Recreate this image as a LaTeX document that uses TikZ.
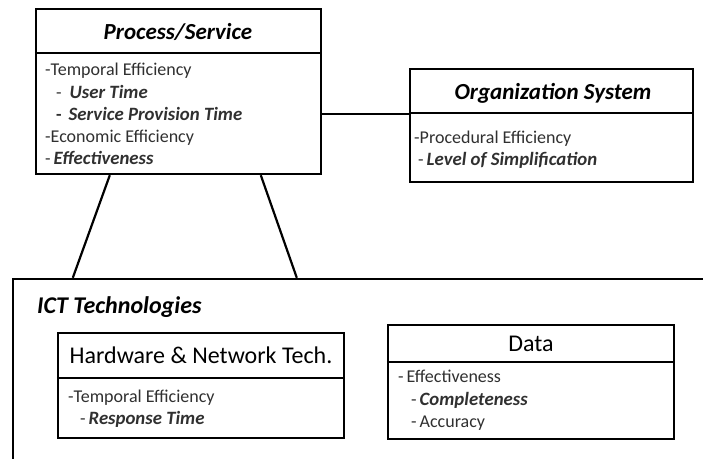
\documentclass[tikz,border=0pt]{standalone}
\usepackage{fontspec}
\setmainfont{Carlito}
\usetikzlibrary{calc}
\definecolor{txt}{HTML}{303030}
\newcommand{\bi}[1]{{\fontsize{18.8}{20}\selectfont\bfseries\itshape #1}}
\tikzset{
  box/.style={draw=black, line width=2.4pt, minimum width=#1, inner sep=0pt, fill=none},
  divider/.style={draw=black, line width=1.8pt},
  link/.style={draw=black, line width=2.2pt},
  hdr/.style={font=\fontsize{23}{25}\selectfont\bfseries\itshape, anchor=base, inner sep=0pt},
  hdrreg/.style={font=\fontsize{24}{26}\selectfont, anchor=base, inner sep=0pt},
  item/.style={font=\fontsize{18}{20}\selectfont, text=txt, anchor=base west, inner sep=0pt},
}
\begin{document}
\begin{tikzpicture}[x=1pt,y=-1pt]
\useasboundingbox (0,0) rectangle (703,458);
\clip (0,0) rectangle (703,458);
\fill[white] (0,0) rectangle (703,458);

% Process/Service
\node[box=285pt, minimum height=165pt] (ps) at (178.5,91.5) {};
\draw[divider] (ps.west |- 0,53) -- (ps.east |- 0,53);
\node[hdr] (psh) at (178,39) {Process/Service};
\node[item] (ps1) at (45,75) {-Temporal Efficiency};
\node[item] (ps2) at (56,98) {-\hspace{8pt}\bi{User Time}};
\node[item] (ps3) at (56,120) {\textbf{-}\hspace{7pt}\bi{Service Provision Time}};
\node[item] (ps4) at (45,142) {-Economic Efficiency};
\node[item] (ps5) at (45,164) {-\hspace{3pt}\bi{Effectiveness}};

% Organization System
\node[box=283pt, minimum height=113pt] (os) at (551.5,125.5) {};
\draw[divider] (os.west |- 0,113) -- (os.east |- 0,113);
\node[hdr] (osh) at (553,99) {Organization System};
\node[item] (os1) at (414,143) {-Procedural Efficiency};
\node[item] (os2) at (418,165) {-\hspace{3pt}\bi{Level of Simplification}};

% ICT Technologies (extends beyond the frame)
\node[box=707pt, minimum height=191pt] (ict) at (366.5,374.5) {};
\node[hdr, anchor=base west, font=\fontsize{24}{26}\selectfont\bfseries\itshape] (icth) at (37,313) {ICT Technologies};

% Hardware & Network Tech.
\node[box=286pt, minimum height=105pt] (hw) at (201,385.5) {};
\draw[divider] (hw.west |- 0,378) -- (hw.east |- 0,378);
\node[hdrreg] (hwh) at (201,363) {Hardware \& Network Tech.};
\node[item] (hw1) at (68,402) {-Temporal Efficiency};
\node[item] (hw2) at (80,424) {-\hspace{3pt}\bi{Response Time}};

% Data
\node[box=286pt, minimum height=114pt] (da) at (531,382) {};
\draw[divider] (da.west |- 0,362) -- (da.east |- 0,362);
\node[hdrreg] (dah) at (531,351) {Data};
\node[item] (da1) at (398,382) {-\hspace{3pt}Effectiveness};
\node[item] (da2) at (411,405) {-\hspace{3pt}\bi{Completeness}};
\node[item] (da3) at (411,427) {-\hspace{3pt}Accuracy};

% connectors
\draw[link] (ps.east |- 0,114) -- (os.west |- 0,114);
\draw[link] ($(ps.south west)+(75,0)$) -- ($(ict.north west)+(61,0)$);
\draw[link] ($(ps.south west)+(226,0)$) -- ($(ict.north west)+(285,0)$);
\end{tikzpicture}
\end{document}
